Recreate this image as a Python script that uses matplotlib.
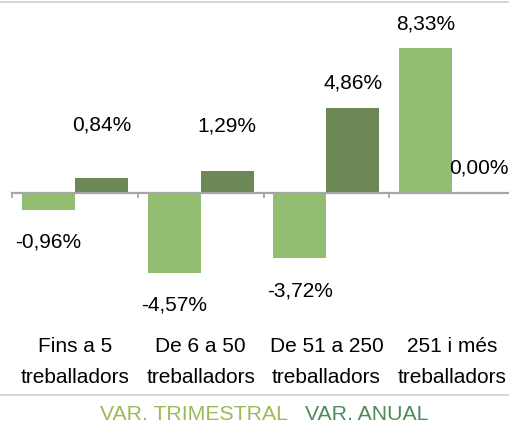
import numpy as np
import matplotlib
matplotlib.use("Agg")
from matplotlib import pyplot as plt
from matplotlib.lines import Line2D

plt.rcParams["font.family"] = ["Liberation Sans", "DejaVu Sans"]

categories = ["Fins a 5\ntreballadors", "De 6 a 50\ntreballadors",
              "De 51 a 250\ntreballadors", "251 i més\ntreballadors"]
var_trimestral = [-0.96, -4.57, -3.72, 8.33]
var_anual = [0.84, 1.29, 4.86, 0.00]
series_names = ["VAR. TRIMESTRAL", "VAR. ANUAL"]

# label offsets from bar end, in pixels (hand placed in the original)
trim_offsets = [-31, -31, -32, 25]
anual_offsets = [54, 46, 26, 26]

color_trim = "#93bd70"
color_anual = "#6e8756"
W, H = 509, 427
DPI = 100
PT = 72 / DPI

fig = plt.figure(figsize=(W / DPI, H / DPI), dpi=DPI)

# axes in pixel geometry: x from 12 to 515, y from 20 to 320 (top-down)
x0, x1, y0, y1 = 12, 515, 20, 320
ax = fig.add_axes([x0 / W, (H - y1) / H, (x1 - x0) / W, (y1 - y0) / H])
zero_px = 194
px_per_unit = 17.4
ax.set_ylim(-(y1 - zero_px) / px_per_unit, (zero_px - y0) / px_per_unit)
ax.set_xlim(-0.5, 3.5)

x = np.arange(len(categories))
bw = 53 / 126
ax.bar(x - bw / 2, var_trimestral, bw, color=color_trim, zorder=2)
ax.bar(x + bw / 2, var_anual, bw, color=color_anual, zorder=2)


def fmt(v):
    return "{:.2f}%".format(v).replace(".", ",")


for xi, v, off in zip(x - bw / 2, var_trimestral, trim_offsets):
    ax.annotate(fmt(v), (xi, v), xytext=(0, off * PT), textcoords="offset points",
                ha="center", va="center", fontsize=15, color="black")
for xi, v, off in zip(x + bw / 2, var_anual, anual_offsets):
    ax.annotate(fmt(v), (xi, v), xytext=(0, off * PT), textcoords="offset points",
                ha="center", va="center", fontsize=15, color="black")

for name in ["top", "left", "right"]:
    ax.spines[name].set_visible(False)
ax.spines["bottom"].set_position(("data", 0))
ax.spines["bottom"].set_color("#a6a6a6")
ax.spines["bottom"].set_linewidth(2.2 * PT)
ax.spines["bottom"].set_zorder(3)
ax.set_yticks([])
ax.set_xticks(np.arange(-0.5, 4.0, 1.0))
ax.tick_params(axis="x", length=5 * PT, width=1.8 * PT, color="#a6a6a6", labelbottom=False)

for xi, cat in zip(x, categories):
    fig.text((x0 + (xi + 0.5) * 125.75) / W, 1 - 362 / H, cat, ha="center", va="center",
             fontsize=15, linespacing=1.8)

# frame lines
fig.add_artist(Line2D([0, 1], [1 - 3 / H, 1 - 3 / H], color="#c8c8c8", lw=1.5 * PT))
fig.add_artist(Line2D([0, 1], [1 - 395.5 / H, 1 - 395.5 / H], color="#c8c8c8", lw=1.5 * PT))

# legend as coloured text
fig.text(100 / W, 1 - 415 / H, series_names[0], ha="left", va="center",
         fontsize=15.3, color="#9bbb59")
fig.text(305 / W, 1 - 415 / H, series_names[1], ha="left", va="center",
         fontsize=15.3, color="#4f8a5a")

fig.savefig("out.png", dpi=DPI)
